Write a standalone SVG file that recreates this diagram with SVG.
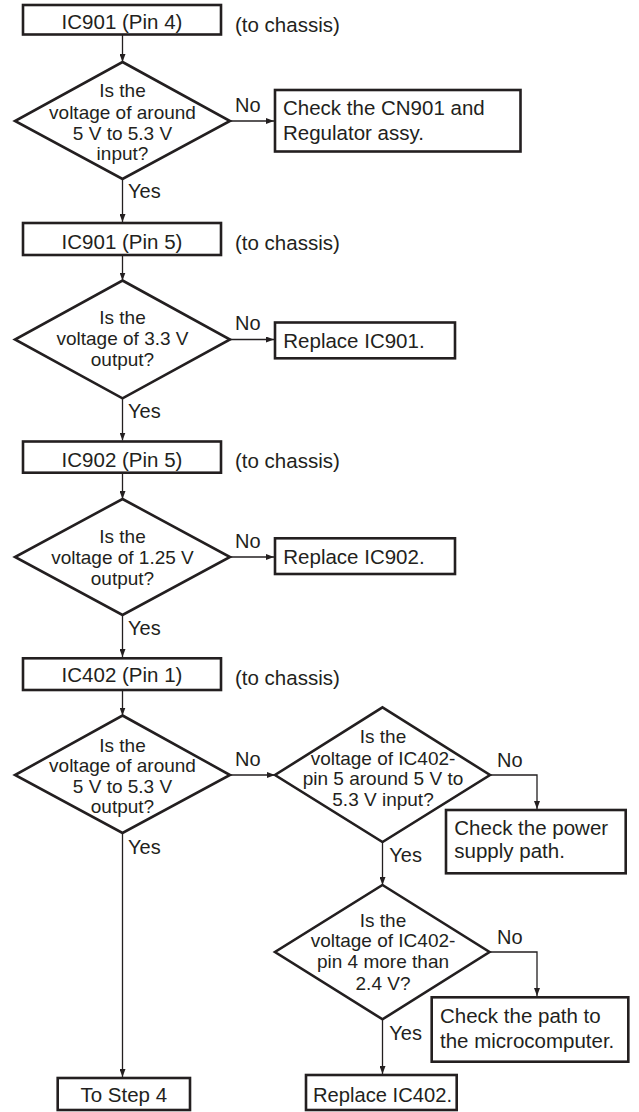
<svg xmlns="http://www.w3.org/2000/svg" width="639" height="1112" viewBox="0 0 639 1112">
<defs>
<marker id="arr" markerWidth="8" markerHeight="6" refX="8" refY="3" orient="auto" markerUnits="userSpaceOnUse">
<path d="M0,0 L8,3 L0,6 Z" fill="#231f20"/>
</marker>
<style>
.box{fill:#fff;stroke:#231f20;stroke-width:2.6}
.dia{fill:#fff;stroke:#231f20;stroke-width:2.6;stroke-linejoin:miter}
.con{fill:none;stroke:#231f20;stroke-width:1.3}
.t{font-family:"Liberation Sans",Arial,sans-serif;font-size:20.5px;fill:#231f20}
.c{text-anchor:middle}
.d{font-family:"Liberation Sans",Arial,sans-serif;font-size:19px;fill:#231f20;text-anchor:middle}
.l{font-family:"Liberation Sans",Arial,sans-serif;font-size:20px;fill:#231f20}
</style>
</defs>
<rect width="639" height="1112" fill="#fff"/>
<g id="connectors">
<line class="con" x1="122.5" y1="35" x2="122.5" y2="62" marker-end="url(#arr)"/>
<line class="con" x1="122.5" y1="179" x2="122.5" y2="222" marker-end="url(#arr)"/>
<line class="con" x1="122.5" y1="256" x2="122.5" y2="280.5" marker-end="url(#arr)"/>
<line class="con" x1="122.5" y1="398" x2="122.5" y2="440.5" marker-end="url(#arr)"/>
<line class="con" x1="122.5" y1="474" x2="122.5" y2="499" marker-end="url(#arr)"/>
<line class="con" x1="122.5" y1="615" x2="122.5" y2="657" marker-end="url(#arr)"/>
<line class="con" x1="122.5" y1="691" x2="122.5" y2="715.5" marker-end="url(#arr)"/>
<line class="con" x1="122.5" y1="833" x2="122.5" y2="1077" marker-end="url(#arr)"/>
<line class="con" x1="230" y1="121" x2="274" y2="121" marker-end="url(#arr)"/>
<line class="con" x1="230" y1="339.5" x2="274" y2="339.5" marker-end="url(#arr)"/>
<line class="con" x1="230" y1="557" x2="274" y2="557" marker-end="url(#arr)"/>
<line class="con" x1="230" y1="775" x2="275" y2="775" marker-end="url(#arr)"/>
<polyline class="con" points="490,775 537,775 537,809" marker-end="url(#arr)"/>
<line class="con" x1="382.5" y1="842" x2="382.5" y2="885" marker-end="url(#arr)"/>
<polyline class="con" points="489.5,952 537,952 537,996" marker-end="url(#arr)"/>
<line class="con" x1="382.5" y1="1019" x2="382.5" y2="1074" marker-end="url(#arr)"/>
</g>
<g id="n1">
<rect class="box" x="23" y="5" width="198" height="29.5"/>
<text class="t c" x="122" y="29">IC901 (Pin 4)</text>
<text class="t" x="235" y="31.5">(to chassis)</text>
</g>
<g id="d1">
<polygon class="dia" points="122.5,62 230,121 122.5,179 15,121"/>
<text class="d" x="122.5" y="97">Is the</text>
<text class="d" x="122.5" y="118.5">voltage of around</text>
<text class="d" x="122.5" y="139.5">5 V to 5.3 V</text>
<text class="d" x="122.5" y="160">input?</text>
<text class="l" x="235" y="111.5">No</text>
<text class="l" x="128" y="198">Yes</text>
</g>
<g id="n2">
<rect class="box" x="275" y="90" width="245.5" height="61.5"/>
<text class="t" x="283" y="115">Check the CN901 and</text>
<text class="t" x="283" y="140">Regulator assy.</text>
</g>
<g id="n3">
<rect class="box" x="23" y="223" width="198" height="32"/>
<text class="t c" x="122" y="248.5">IC901 (Pin 5)</text>
<text class="t" x="235" y="250">(to chassis)</text>
</g>
<g id="d2">
<polygon class="dia" points="122.5,280.5 230,339.5 122.5,398.3 15,339.5"/>
<text class="d" x="122.5" y="323.5">Is the</text>
<text class="d" x="122.5" y="345">voltage of 3.3 V</text>
<text class="d" x="122.5" y="366">output?</text>
<text class="l" x="235" y="330">No</text>
<text class="l" x="128" y="418">Yes</text>
</g>
<g id="n4">
<rect class="box" x="275" y="322.5" width="180" height="35.8"/>
<text class="t" x="283.3" y="348">Replace IC901.</text>
</g>
<g id="n5">
<rect class="box" x="23" y="441.5" width="198" height="31.2"/>
<text class="t c" x="122" y="466.5">IC902 (Pin 5)</text>
<text class="t" x="235" y="468">(to chassis)</text>
</g>
<g id="d3">
<polygon class="dia" points="122.5,499 230,557 122.5,615 15,557"/>
<text class="d" x="122.5" y="542.5">Is the</text>
<text class="d" x="122.5" y="563.5">voltage of 1.25 V</text>
<text class="d" x="122.5" y="584.5">output?</text>
<text class="l" x="235" y="548">No</text>
<text class="l" x="128" y="635">Yes</text>
</g>
<g id="n6">
<rect class="box" x="275" y="538.3" width="180" height="35.7"/>
<text class="t" x="283.3" y="564">Replace IC902.</text>
</g>
<g id="n7">
<rect class="box" x="23" y="658.3" width="198" height="31.7"/>
<text class="t c" x="122" y="682">IC402 (Pin 1)</text>
<text class="t" x="235" y="684.5">(to chassis)</text>
</g>
<g id="d4">
<polygon class="dia" points="122.5,715.5 230,775 122.5,833 15,775"/>
<text class="d" x="122.5" y="751.5">Is the</text>
<text class="d" x="122.5" y="772">voltage of around</text>
<text class="d" x="122.5" y="792.5">5 V to 5.3 V</text>
<text class="d" x="122.5" y="813">output?</text>
<text class="l" x="235" y="766">No</text>
<text class="l" x="128" y="854">Yes</text>
</g>
<g id="d5">
<polygon class="dia" points="382.5,707.3 490,775 382.5,842 275,775"/>
<text class="d" x="383" y="743.3">Is the</text>
<text class="d" x="383" y="765">voltage of IC402-</text>
<text class="d" x="383" y="785">pin 5 around 5 V to</text>
<text class="d" x="383" y="806">5.3 V input?</text>
<text class="l" x="497" y="766.5">No</text>
<text class="l" x="389.3" y="862">Yes</text>
</g>
<g id="n8">
<rect class="box" x="446" y="810" width="179.7" height="63.3"/>
<text class="t" x="454.3" y="835">Check the power</text>
<text class="t" x="454.3" y="858.3">supply path.</text>
</g>
<g id="d6">
<polygon class="dia" points="382.5,885 489.5,952 382.5,1019.3 275,952"/>
<text class="d" x="383" y="926.7">Is the</text>
<text class="d" x="383" y="946.7">voltage of IC402-</text>
<text class="d" x="383" y="968.3">pin 4 more than</text>
<text class="d" x="383" y="990">2.4 V?</text>
<text class="l" x="497" y="944">No</text>
<text class="l" x="389.3" y="1040">Yes</text>
</g>
<g id="n9">
<rect class="box" x="431.7" y="997.3" width="196.6" height="64.4"/>
<text class="t" x="440" y="1023.3">Check the path to</text>
<text class="t" x="440" y="1048.3">the microcomputer.</text>
</g>
<g id="n10">
<rect class="box" x="306" y="1075" width="150.7" height="35"/>
<text class="t" x="313" y="1101.5" textLength="139" lengthAdjust="spacingAndGlyphs">Replace IC402.</text>
</g>
<g id="n11">
<rect class="box" x="57.7" y="1078" width="132.3" height="32"/>
<text class="t c" x="123.8" y="1101.5">To Step 4</text>
</g>
</svg>
